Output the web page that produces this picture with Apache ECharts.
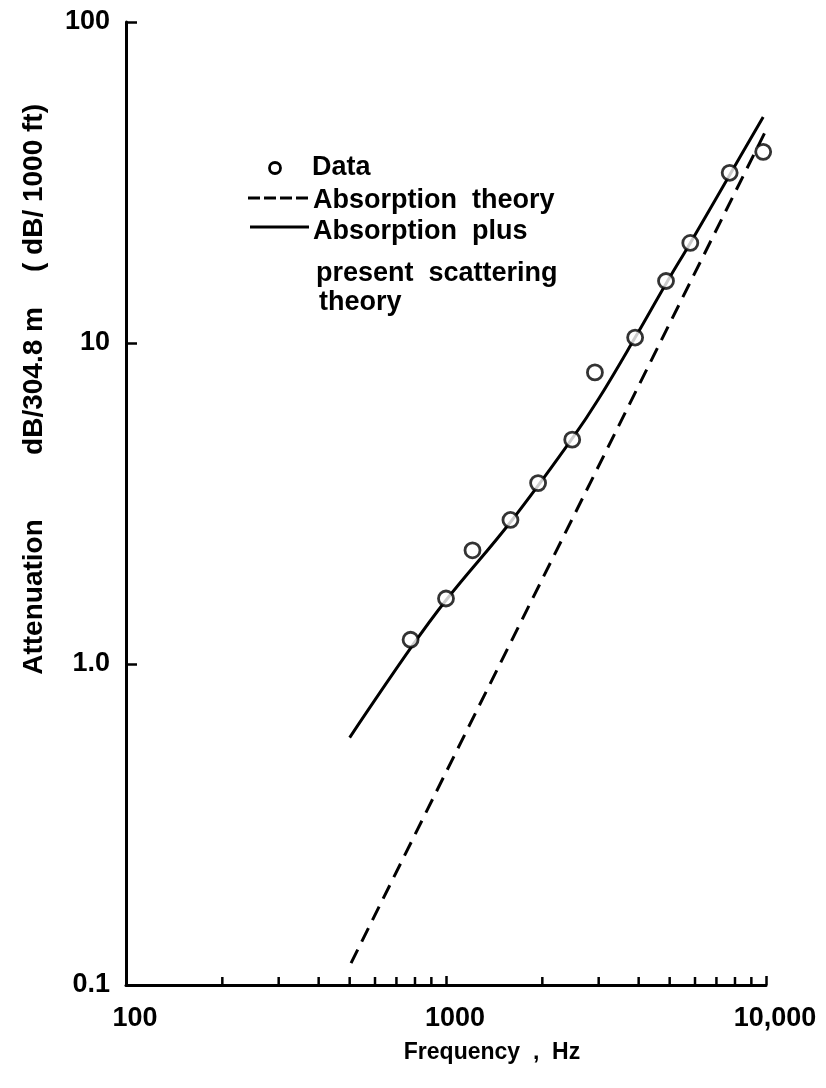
<!DOCTYPE html>
<html>
<head>
<meta charset="utf-8">
<script src="https://cdn.jsdelivr.net/npm/echarts@6/dist/echarts.min.js"></script>
<style>
  html, body { margin: 0; padding: 0; background: #fff; }
  #chart { width: 826px; height: 1088px; }
</style>
</head>
<body>
<div id="chart"></div>
<script>
// Measured attenuation (circles)
const dataFreq  = [775, 1000, 1210, 1590, 1940, 2480, 2920, 3900, 4870, 5800, 7700, 9800];
const dataAtten = [1.19, 1.6, 2.26, 2.81, 3.66, 5.0, 8.1, 10.4, 15.6, 20.5, 33.9, 39.4];

// Absorption theory (dashed)
const absFreq  = [505, 1000, 2000, 5000, 10000];
const absAtten = [0.117, 0.46, 1.84, 11.5, 46];

// Absorption plus present scattering theory (solid)
const totFreq  = [500, 780, 1000, 1600, 2500, 3000, 3900, 4870, 5800, 7700, 9800];
const totAtten = [0.59, 1.13, 1.58, 2.79, 5.1, 6.7, 10.4, 15.3, 20.5, 33.4, 50.6];

// Axis ticks and labels
const minorTickFreqs = [200, 300, 400, 500, 600, 700, 800, 900, 2000, 3000, 4000, 5000, 6000, 7000, 8000, 9000];
const xTickLabels = ['100', '1000', '10,000'];      // 10^2 .. 10^4
const yTickLabels = ['0.1', '1.0', '10', '100'];     // 10^-1 .. 10^2

// Key and axis-title text
const keyLines = ['Data', 'Absorption  theory', 'Absorption  plus', 'present  scattering', 'theory'];
const yTitleParts = ['Attenuation', 'dB/304.8 m', '( dB/ 1000 ft)'];
const xTitle = 'Frequency  ,  Hz';

const FONT = 'Liberation Sans';
const INK = '#000';
const font = size => `bold ${size}px "${FONT}"`;

const chart = echarts.init(document.getElementById('chart'), null, { renderer: 'canvas' });

const zip = (a, b) => a.map((v, i) => [v, b[i]]);

chart.setOption({
  backgroundColor: '#fff',
  animation: false,
  grid: { left: 126, right: 60, top: 22, bottom: 103 },
  xAxis: {
    type: 'log', logBase: 10, min: 100, max: 10000,
    splitLine: { show: false },
    axisLine: { lineStyle: { color: INK, width: 3 } },
    axisTick: { inside: true, length: 9, lineStyle: { color: INK, width: 2.5 } },
    axisLabel: {
      margin: 20, color: INK, fontFamily: FONT, fontWeight: 'bold', fontSize: 27, padding: [0, 0, 0, 18],
      formatter: v => xTickLabels[Math.round(Math.log10(v)) - 2]
    }
  },
  yAxis: {
    type: 'log', logBase: 10, min: 0.1, max: 100,
    splitLine: { show: false },
    axisLine: { lineStyle: { color: INK, width: 3 } },
    axisTick: { inside: true, length: 11, lineStyle: { color: INK, width: 2.5 } },
    axisLabel: {
      margin: 16, color: INK, fontFamily: FONT, fontWeight: 'bold', fontSize: 27,
      formatter: v => yTickLabels[Math.round(Math.log10(v)) + 1]
    }
  },
  series: [
    {
      // minor ticks along the frequency axis, pointing into the plot
      type: 'custom',
      silent: true,
      clip: false,
      z: 3,
      data: minorTickFreqs.map(f => [f, 0.1]),
      renderItem: (params, api) => {
        const p = api.coord([api.value(0), api.value(1)]);
        return {
          type: 'line',
          shape: { x1: p[0], y1: p[1], x2: p[0], y2: p[1] - 8 },
          style: { stroke: INK, lineWidth: 2.5 }
        };
      }
    },
    {
      name: 'Absorption theory',
      type: 'line',
      data: zip(absFreq, absAtten),
      showSymbol: false,
      lineStyle: { color: INK, width: 3, type: [15, 9] },
      z: 4
    },
    {
      name: 'Absorption plus present scattering theory',
      type: 'line',
      data: zip(totFreq, totAtten),
      showSymbol: false,
      smooth: 0.4,
      lineStyle: { color: INK, width: 3 },
      z: 4
    },
    {
      name: 'Data',
      type: 'scatter',
      data: zip(dataFreq, dataAtten),
      symbol: 'circle',
      symbolSize: 15,
      itemStyle: { color: '#fff', borderColor: INK, borderWidth: 2.8 },
      z: 6
    }
  ],
  graphic: [
    // key
    { type: 'circle', shape: { cx: 275, cy: 168, r: 5.5 }, style: { fill: '#fff', stroke: INK, lineWidth: 2.8 } },
    { type: 'text', x: 312, y: 168, style: { text: keyLines[0], font: font(27), fill: INK, verticalAlign: 'middle' } },
    { type: 'line', shape: { x1: 248, y1: 198, x2: 310, y2: 198 }, style: { stroke: INK, lineWidth: 2.8, lineDash: [12, 4] } },
    { type: 'text', x: 313, y: 201, style: { text: keyLines[1], font: font(27), fill: INK, verticalAlign: 'middle' } },
    { type: 'line', shape: { x1: 250, y1: 227, x2: 309, y2: 227 }, style: { stroke: INK, lineWidth: 2.8 } },
    { type: 'text', x: 313, y: 232, style: { text: keyLines[2], font: font(27), fill: INK, verticalAlign: 'middle' } },
    { type: 'text', x: 316, y: 274, style: { text: keyLines[3], font: font(27), fill: INK, verticalAlign: 'middle' } },
    { type: 'text', x: 319, y: 303, style: { text: keyLines[4], font: font(27), fill: INK, verticalAlign: 'middle' } },
    // vertical axis title, read bottom to top
    { type: 'text', x: 34, y: 597, rotation: Math.PI / 2,
      style: { text: yTitleParts[0], font: font(28), fill: INK, align: 'center', verticalAlign: 'middle' } },
    { type: 'text', x: 34, y: 381, rotation: Math.PI / 2,
      style: { text: yTitleParts[1], font: font(28), fill: INK, align: 'center', verticalAlign: 'middle' } },
    { type: 'text', x: 34, y: 188, rotation: Math.PI / 2,
      style: { text: yTitleParts[2], font: font(28), fill: INK, align: 'center', verticalAlign: 'middle' } },
    // horizontal axis title
    { type: 'text', x: 492, y: 1053,
      style: { text: xTitle, font: font(23), fill: INK, align: 'center', verticalAlign: 'middle' } }
  ]
});
</script>
</body>
</html>
